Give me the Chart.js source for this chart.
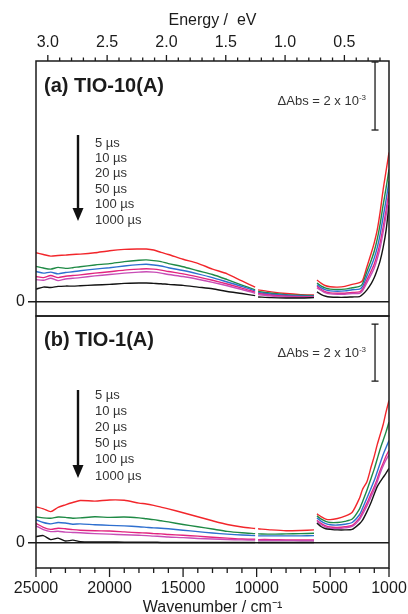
<!DOCTYPE html>
<html>
<head>
<meta charset="utf-8">
<script src="https://cdn.jsdelivr.net/npm/chart.js@4.4.1/dist/chart.umd.min.js"></script>
<style>
  html, body { margin: 0; padding: 0; background: #fff; }
  #wrap { position: relative; width: 408px; height: 614px; overflow: hidden; background: #fff; }
  canvas { position: absolute; left: 0; }
  #ca { top: 0; }
  #cb { top: 315px; }
</style>
</head>
<body>
<div id="wrap">
  <canvas id="ca" width="408" height="318"></canvas>
  <canvas id="cb" width="408" height="299"></canvas>
</div>
<script>
// Wavenumber grid (cm-1) for the three detector ranges; null rows split the ranges
const seg1 = [25000, 24500, 24000, 23500, 23000, 22500, 22000, 21000, 20000, 19000, 18000,
              17500, 17000, 16500, 16000, 15000, 14000, 13000, 12000, 11000, 10100];
const seg2 = [9900, 9000, 8000, 7000, 6100];
const seg3 = [5900, 5600, 5300, 5000, 4500, 4000, 3500, 3000, 2800, 2500, 2200, 2000,
              1800, 1600, 1400, 1200, 1000];
const wavenumber = [...seg1, 10000, ...seg2, 6000, ...seg3];

const delays = ['5 \u00B5s', '10 \u00B5s', '20 \u00B5s', '50 \u00B5s', '100 \u00B5s', '1000 \u00B5s'];

// ΔAbs in units of 1e-3, (a) TIO-10(A)
const a5us = [1.45, 1.40, 1.35, 1.37, 1.38, 1.40, 1.41, 1.45, 1.51, 1.55, 1.56, 1.56, 1.53, 1.46, 1.40, 1.26, 1.14, 0.97, 0.83, 0.62, 0.44,
  null, 0.36, 0.30, 0.25, 0.22, 0.21,
  null, 0.65, 0.55, 0.48, 0.45, 0.44, 0.46, 0.52, 0.57, 0.63, 1.04, 1.45, 1.75, 2.12, 2.65, 3.30, 3.85, 4.40];
const a10us = [1.05, 1.00, 0.97, 1.02, 0.99, 1.01, 1.04, 1.09, 1.13, 1.19, 1.23, 1.24, 1.22, 1.19, 1.13, 1.04, 0.92, 0.81, 0.66, 0.50, 0.36,
  null, 0.31, 0.26, 0.22, 0.20, 0.19,
  null, 0.56, 0.47, 0.41, 0.38, 0.37, 0.38, 0.42, 0.46, 0.54, 0.90, 1.24, 1.50, 1.85, 2.30, 2.85, 3.35, 3.90];
const a20us = [0.90, 0.85, 0.88, 0.83, 0.87, 0.89, 0.92, 0.97, 1.01, 1.06, 1.10, 1.11, 1.09, 1.06, 1.01, 0.93, 0.83, 0.72, 0.59, 0.46, 0.33,
  null, 0.28, 0.23, 0.20, 0.18, 0.17,
  null, 0.51, 0.42, 0.36, 0.33, 0.32, 0.33, 0.36, 0.38, 0.46, 0.77, 1.07, 1.30, 1.60, 2.00, 2.50, 3.00, 3.55];
const a50us = [0.75, 0.72, 0.78, 0.72, 0.76, 0.78, 0.80, 0.85, 0.89, 0.94, 0.97, 0.98, 0.97, 0.94, 0.90, 0.83, 0.74, 0.64, 0.53, 0.41, 0.29,
  null, 0.25, 0.20, 0.17, 0.16, 0.16,
  null, 0.46, 0.37, 0.30, 0.27, 0.26, 0.26, 0.28, 0.30, 0.38, 0.65, 0.92, 1.12, 1.40, 1.75, 2.20, 2.70, 3.25];
const a100us = [0.66, 0.64, 0.70, 0.63, 0.68, 0.70, 0.72, 0.77, 0.81, 0.85, 0.88, 0.89, 0.88, 0.85, 0.81, 0.75, 0.67, 0.58, 0.48, 0.37, 0.26,
  null, 0.22, 0.18, 0.15, 0.14, 0.15,
  null, 0.42, 0.34, 0.27, 0.24, 0.23, 0.23, 0.25, 0.26, 0.33, 0.57, 0.82, 1.00, 1.27, 1.60, 2.05, 2.55, 3.10];
const a1000us = [0.38, 0.44, 0.43, 0.46, 0.47, 0.47, 0.48, 0.50, 0.52, 0.55, 0.56, 0.56, 0.55, 0.54, 0.52, 0.49, 0.44, 0.39, 0.31, 0.25, 0.19,
  null, 0.15, 0.13, 0.12, 0.12, 0.13,
  null, 0.30, 0.22, 0.17, 0.15, 0.14, 0.14, 0.15, 0.16, 0.22, 0.36, 0.55, 0.72, 0.95, 1.22, 1.60, 2.10, 2.85];

// ΔAbs in units of 1e-3, (b) TIO-1(A)
const b5us = [1.27, 1.20, 1.10, 1.25, 1.34, 1.42, 1.49, 1.47, 1.51, 1.50, 1.40, 1.37, 1.32, 1.26, 1.20, 1.06, 0.92, 0.78, 0.65, 0.56, 0.51,
  null, 0.50, 0.46, 0.43, 0.44, 0.46,
  null, 1.02, 0.92, 0.84, 0.82, 0.86, 0.94, 1.08, 1.58, 1.88, 2.15, 2.70, 3.05, 3.45, 3.80, 4.15, 4.60, 5.00];
const b10us = [0.92, 0.88, 0.87, 0.91, 0.90, 0.87, 0.88, 0.92, 0.90, 0.91, 0.88, 0.85, 0.82, 0.78, 0.74, 0.65, 0.57, 0.49, 0.41, 0.36, 0.33,
  null, 0.32, 0.31, 0.32, 0.33, 0.34,
  null, 0.95, 0.84, 0.76, 0.72, 0.72, 0.76, 0.84, 1.20, 1.45, 1.85, 2.30, 2.60, 2.95, 3.30, 3.60, 3.90, 4.25];
const b20us = [0.81, 0.72, 0.67, 0.72, 0.70, 0.66, 0.67, 0.64, 0.62, 0.60, 0.57, 0.55, 0.53, 0.52, 0.50, 0.45, 0.40, 0.35, 0.31, 0.28, 0.26,
  null, 0.25, 0.25, 0.25, 0.25, 0.26,
  null, 0.88, 0.76, 0.68, 0.64, 0.63, 0.66, 0.72, 1.00, 1.22, 1.58, 1.95, 2.20, 2.50, 2.80, 3.10, 3.35, 3.60];
const b50us = [0.69, 0.55, 0.48, 0.52, 0.50, 0.47, 0.45, 0.43, 0.42, 0.39, 0.36, 0.35, 0.33, 0.32, 0.30, 0.27, 0.24, 0.20, 0.17, 0.14, 0.13,
  null, 0.12, 0.12, 0.11, 0.11, 0.11,
  null, 0.80, 0.68, 0.60, 0.56, 0.55, 0.57, 0.62, 0.88, 1.08, 1.40, 1.75, 1.98, 2.25, 2.55, 2.80, 3.05, 3.25];
const b100us = [0.60, 0.47, 0.40, 0.41, 0.38, 0.37, 0.36, 0.33, 0.31, 0.29, 0.27, 0.26, 0.24, 0.23, 0.21, 0.19, 0.16, 0.14, 0.12, 0.11, 0.10,
  null, 0.09, 0.09, 0.09, 0.08, 0.08,
  null, 0.76, 0.64, 0.56, 0.52, 0.51, 0.53, 0.58, 0.82, 1.00, 1.30, 1.65, 1.88, 2.15, 2.45, 2.70, 2.92, 3.10];
const b1000us = [0.22, 0.26, 0.12, 0.17, 0.07, 0.10, 0.05, 0.04, 0.04, 0.03, 0.03, 0.03, 0.03, 0.02, 0.02, 0.02, 0.02, 0.02, 0.02, 0.02, 0.02,
  null, 0.02, 0.02, 0.02, 0.02, 0.02,
  null, 0.70, 0.57, 0.50, 0.48, 0.46, 0.46, 0.48, 0.68, 0.80, 1.10, 1.45, 1.72, 1.98, 2.15, 2.30, 2.45, 2.62];

// 2 x 10^-3 scale bar: position and ends (units of 1e-3)
const barWavenumber = 1950;
const barA = [5.06, 7.06];
const barB = [5.68, 7.68];

const colors = ['#f2262b', '#1f8a45', '#2e6fcf', '#e2247f', '#c84cb6', '#141414'];
const INK = '#1b1b1b';
const FAM = "'Liberation Sans', Arial, Helvetica, sans-serif";
const EV = 8065.54;

Chart.defaults.font.family = FAM;
Chart.defaults.color = INK;

function pts(vals) {
  return wavenumber.map((x, i) => ({ x: x, y: vals[i] }));
}

function seriesSets(list) {
  // drawn from 1000 µs up to 5 µs so the red trace lies on top
  const sets = [];
  for (let i = list.length - 1; i >= 0; i--) {
    sets.push({
      label: delays[i], data: pts(list[i]), borderColor: colors[i],
      borderWidth: 1.4, pointRadius: 0, tension: 0.25, spanGaps: false
    });
  }
  return sets;
}

function barSet(ends) {
  return {
    label: 'scale', data: ends.map(v => ({ x: barWavenumber, y: v })),
    borderColor: INK, borderWidth: 1.3, tension: 0,
    pointStyle: 'line', pointRadius: 3.5, pointBorderWidth: 1.3,
    pointBorderColor: INK, pointBackgroundColor: INK
  };
}

// frame around the plotting area
const framePlugin = {
  id: 'frame',
  afterDraw(chart) {
    const a = chart.chartArea, ctx = chart.ctx;
    ctx.save();
    ctx.strokeStyle = INK; ctx.lineWidth = 1.5;
    ctx.strokeRect(a.left, a.top, a.right - a.left, a.bottom - a.top);
    ctx.restore();
  }
};

// outward tick marks, long for labelled values and short for the rest
function tickMarks(axisId, side, major, minor, isMajor) {
  return {
    id: 'ticks_' + axisId,
    afterDraw(chart) {
      const s = chart.scales[axisId];
      const a = chart.chartArea, ctx = chart.ctx;
      const y0 = side === 'top' ? a.top : a.bottom;
      const dir = side === 'top' ? -1 : 1;
      ctx.save();
      ctx.strokeStyle = INK; ctx.lineWidth = 1.3;
      s.ticks.forEach(t => {
        const x = s.getPixelForValue(t.value);
        const len = isMajor(t.value) ? major : minor;
        ctx.beginPath(); ctx.moveTo(x, y0); ctx.lineTo(x, y0 + dir * len); ctx.stroke();
      });
      ctx.restore();
    }
  };
}

// panel caption, scale-bar label and delay list with arrow
function panelText(cfg) {
  return {
    id: 'panelText',
    afterDraw(chart) {
      const a = chart.chartArea, ctx = chart.ctx;
      ctx.save();
      ctx.fillStyle = INK;
      ctx.textAlign = 'left';
      ctx.textBaseline = 'alphabetic';
      ctx.font = 'bold 20px ' + FAM;
      ctx.fillText(cfg.title, a.left + 8, a.top + cfg.titleY);

      const main = '\u0394Abs = 2 x 10', sup = '-3';
      ctx.font = '8px ' + FAM;
      const sw = ctx.measureText(sup).width;
      ctx.font = '13px ' + FAM;
      const mw = ctx.measureText(main).width;
      const xr = a.right - 23, yb = a.top + cfg.absY;
      ctx.fillStyle = '#333';
      ctx.fillText(main, xr - sw - mw, yb);
      ctx.font = '8px ' + FAM;
      ctx.fillText(sup, xr - sw, yb - 5);

      ctx.font = '13px ' + FAM;
      ctx.textBaseline = 'middle';
      delays.forEach((d, i) => ctx.fillText(d, a.left + 59, a.top + cfg.legY + i * cfg.legStep));

      const ax = a.left + 42, top = a.top + cfg.arrowTop, tip = a.top + cfg.arrowTip;
      ctx.strokeStyle = '#111'; ctx.lineWidth = 2.4;
      ctx.beginPath(); ctx.moveTo(ax, top); ctx.lineTo(ax, tip - 8); ctx.stroke();
      ctx.fillStyle = '#111';
      ctx.beginPath();
      ctx.moveTo(ax - 5.5, tip - 13); ctx.lineTo(ax + 5.5, tip - 13); ctx.lineTo(ax, tip);
      ctx.closePath(); ctx.fill();
      ctx.restore();
    }
  };
}

function yScale(min, max) {
  return {
    type: 'linear', position: 'left', min: min, max: max,
    afterBuildTicks: s => { s.ticks = [{ value: 0 }]; },
    afterFit: s => { s.width = 36; s.paddingTop = 0; s.paddingBottom = 0; },
    ticks: { padding: 3, color: INK, font: { size: 16 }, callback: () => '0' },
    grid: { color: INK, lineWidth: 1.5, tickLength: 8, drawTicks: true },
    border: { display: false }
  };
}

const wnIsMajor = v => v % 5000 === 0 || v === 1000;
const evIsMajor = v => Math.abs(v * 2 - Math.round(v * 2)) < 1e-6;

// (a) TIO-10(A) with the energy axis on top
new Chart(document.getElementById('ca'), {
  type: 'line',
  data: { datasets: [...seriesSets([a5us, a10us, a20us, a50us, a100us, a1000us]), barSet(barA)] },
  options: {
    responsive: false, animation: false, events: [],
    layout: { autoPadding: false, padding: { left: 0, right: 19, top: 0, bottom: 2 } },
    plugins: { legend: { display: false }, tooltip: { enabled: false } },
    scales: {
      x: { type: 'linear', min: 1000, max: 25000, reverse: true, display: false },
      e: {
        type: 'linear', position: 'top', min: 1000 / EV, max: 25000 / EV, reverse: true,
        afterFit: s => { s.height = 61; s.paddingLeft = 0; s.paddingRight = 0; },
        ticks: {
          stepSize: 0.1, includeBounds: false, autoSkip: false, maxRotation: 0, minRotation: 0,
          padding: 9, color: INK, font: { size: 16 },
          callback: v => evIsMajor(v) ? v.toFixed(1) : ''
        },
        grid: { display: false, drawTicks: false },
        border: { display: false },
        title: { display: true, text: 'Energy /  eV', color: INK, font: { size: 16 }, padding: { top: 11, bottom: 0 } }
      },
      y: yScale(-0.41, 7.09)
    }
  },
  plugins: [framePlugin, tickMarks('e', 'top', 6, 3.5, v => evIsMajor(v)),
    panelText({ title: '(a) TIO-10(A)', titleY: 31, absY: 44, legY: 82, legStep: 15.4, arrowTop: 74, arrowTip: 160 })]
});

// (b) TIO-1(A) with the wavenumber axis below
new Chart(document.getElementById('cb'), {
  type: 'line',
  data: { datasets: [...seriesSets([b5us, b10us, b20us, b50us, b100us, b1000us]), barSet(barB)] },
  options: {
    responsive: false, animation: false, events: [],
    layout: { autoPadding: false, padding: { left: 0, right: 19, top: 1, bottom: 0 } },
    plugins: { legend: { display: false }, tooltip: { enabled: false } },
    scales: {
      x: {
        type: 'linear', position: 'bottom', min: 1000, max: 25000, reverse: true,
        afterFit: s => { s.height = 46; s.paddingLeft = 0; s.paddingRight = 0; },
        ticks: {
          stepSize: 1000, autoSkip: false, maxRotation: 0, minRotation: 0,
          padding: 11, color: INK, font: { size: 16 },
          callback: v => wnIsMajor(v) ? String(v) : ''
        },
        grid: { display: false, drawTicks: false },
        border: { display: false },
        title: { display: true, text: 'Wavenumber / cm\u207B\u00B9', color: INK, font: { size: 16 }, padding: { top: 0, bottom: -3 } }
      },
      y: yScale(-0.877, 7.965)
    }
  },
  plugins: [framePlugin, tickMarks('x', 'bottom', 9, 5, v => wnIsMajor(v)),
    panelText({ title: '(b) TIO-1(A)', titleY: 30, absY: 41, legY: 79, legStep: 16.2, arrowTop: 74, arrowTip: 162 })]
});
</script>
</body>
</html>
